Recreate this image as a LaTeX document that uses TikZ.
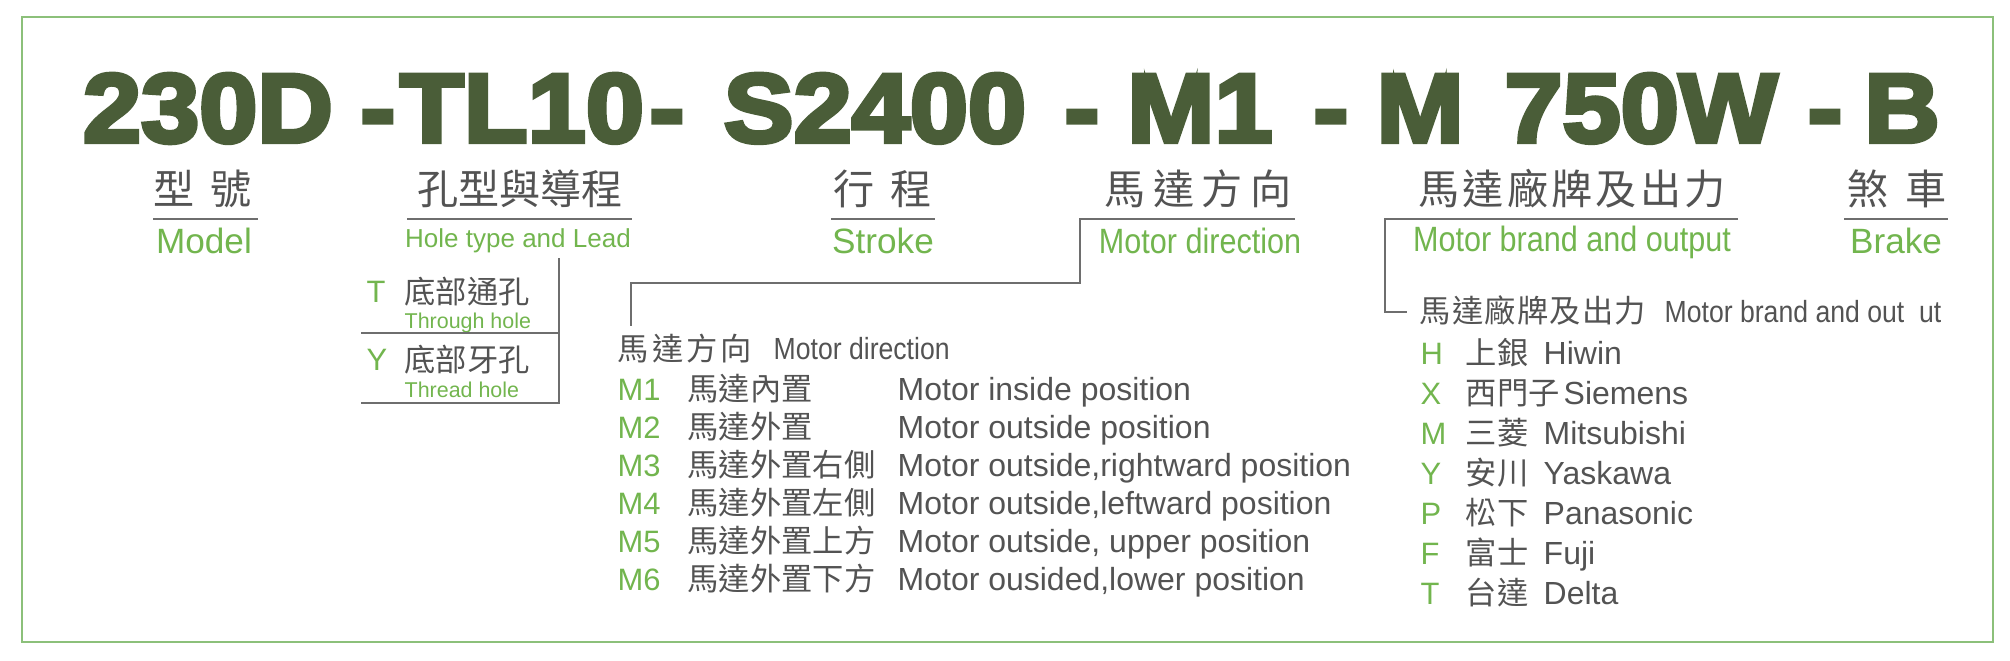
\documentclass[tikz,border=0pt]{standalone}
\usepackage{fontspec}
\usepackage{tikz}
\setmainfont{Liberation Sans}
\newfontfamily\cjk{Noto Sans CJK TC}
\newfontfamily\titlefont{Liberation Sans Bold}[FakeStretch=1.07,FakeBold=4.5]
\newfontfamily\narrowfont{Liberation Sans}[FakeStretch=0.87]
\definecolor{titlegreen}{HTML}{4A5D38}
\definecolor{leafgreen}{HTML}{72B54E}
\definecolor{framegreen}{HTML}{8CC07A}
\definecolor{textgray}{HTML}{535353}
\definecolor{rulegray}{HTML}{6E6E6E}

\begin{document}
\begin{tikzpicture}
			\tikzstyle{title} = [anchor=base,inner sep=0pt,text=titlegreen,font=\titlefont\fontsize{27.8}{30}\selectfont]
			\tikzstyle{head} = [anchor=base,inner sep=0pt,text=textgray,font=\cjk\fontsize{11.7}{13}\selectfont]
			\tikzstyle{sub} = [anchor=base,inner sep=0pt,text=leafgreen,font=\fontsize{10}{12}\selectfont]
			\tikzstyle{subnarrow} = [sub,font=\narrowfont\fontsize{10}{12}\selectfont]
			\tikzstyle{code} = [anchor=base west,inner sep=0pt,text=leafgreen,font=\fontsize{8.8}{10}\selectfont]
			\tikzstyle{cjkrow} = [anchor=base west,inner sep=0pt,text=textgray,font=\cjk\fontsize{8.9}{10}\selectfont]
			\tikzstyle{row} = [anchor=base west,inner sep=0pt,text=textgray,font=\fontsize{9.1}{11}\selectfont]
			\tikzstyle{rule} = [draw=rulegray,line width=0.6pt]
			
			\useasboundingbox (0,0) rectangle (20.10,-6.60);
			\draw[framegreen,line width=0.45pt] (0.22,-0.17) rectangle (19.93,-6.42);
			
			% model code
			\node[title] (model) at (2.08,-1.42) {230D};
			\node[title] (dash1) at (3.78,-1.42) {-};
			\node[title] (lead) at (5.22,-1.42) {TL10};
			\node[title] (dash2) at (6.67,-1.42) {-};
			\node[title] (stroke) at (8.75,-1.42) {S2400};
			\node[title] (dash3) at (10.82,-1.42) {-};
			\node[title] (dir) at (12.00,-1.42) {M1};
			\node[title] (dash4) at (13.31,-1.42) {-};
			\node[title] (brand) at (14.20,-1.42) {M};
			\node[title] (power) at (16.41,-1.42) {750W};
			\node[title] (dash5) at (18.25,-1.42) {-};
			\node[title] (brake) at (19.02,-1.42) {B};
			
			% headings
			\node[head] (hmodel) at (2.03,-2.04) {型\hspace{0.39em}號};
			\node[head] (hlead) at (5.20,-2.04) {孔型與導程};
			\node[head] (hstroke) at (8.83,-2.04) {行\hspace{0.39em}程};
			\node[head] (hdir) at (11.98,-2.04) {\addfontfeature{LetterSpace=18}馬達方向};
			\node[head] (hbrand) at (15.72,-2.04) {\addfontfeature{LetterSpace=8}馬達廠牌及出力};
			\node[head] (hbrake) at (18.97,-2.04) {煞\hspace{0.39em}車};
			
			\node[sub] (emodel) at (2.04,-2.53) {Model};
			\node[sub,font=\fontsize{7.4}{9}\selectfont] (elead) at (5.18,-2.47) {Hole type and Lead};
			\node[sub] (estroke) at (8.83,-2.53) {Stroke};
			\node[subnarrow] (edir) at (12.00,-2.53) {Motor direction};
			\node[subnarrow] (ebrand) at (15.72,-2.51) {Motor brand and output};
			\node[sub] (ebrake) at (18.96,-2.53) {Brake};
			
			\draw[rule] (1.53,-2.19) -- (2.58,-2.19);
			\draw[rule] (4.07,-2.19) -- (6.32,-2.19);
			\draw[rule] (8.31,-2.19) -- (9.35,-2.19);
			\draw[rule] (18.44,-2.19) -- (19.48,-2.19);
			
			% hole type
			\node[code] (ct) at (3.66,-3.02) {T};
			\node[cjkrow] (kt) at (4.04,-3.03) {底部通孔};
			\node[sub,anchor=base west,font=\fontsize{6.1}{7}\selectfont] (et) at (4.04,-3.28) {Through hole};
			\node[code] (cy) at (3.66,-3.70) {Y};
			\node[cjkrow] (ky) at (4.04,-3.71) {底部牙孔};
			\node[sub,anchor=base west,font=\fontsize{6.1}{7}\selectfont] (ey) at (4.04,-3.97) {Thread hole};
			\coordinate (holetop) at (5.59,-2.58);
			\coordinate (holemid) at (3.61,-3.33);
			\coordinate (holeend) at (3.61,-4.03);
			\draw[rule] (holetop) |- (holeend);
			\draw[rule] (holemid) -- (holemid -| holetop);
			
			% motor direction
			\coordinate (dirr) at (12.95,-2.19);
			\coordinate (dirl) at (10.80,-2.19);
			\coordinate (dirend) at (6.31,-3.26);
			\draw[rule] (dirr) -- (dirl) -- ++(0,-0.64) -| (dirend);
			\node[cjkrow,font=\cjk\fontsize{8.9}{10}\selectfont\addfontfeature{LetterSpace=10}] (dirhead) at (6.17,-3.60) {馬達方向};
			\node[row,font=\narrowfont\fontsize{8.7}{10}\selectfont] (direng) at (7.73,-3.59) {Motor direction};
			\node[code] (m1) at (6.17,-4.00) {M1};
			\node[cjkrow] (k1) at (6.87,-4.00) {馬達內置};
			\node[row] (e1) at (8.97,-4.00) {Motor inside position};
			\node[code] (m2) at (6.17,-4.38) {M2};
			\node[cjkrow] (k2) at (6.87,-4.38) {馬達外置};
			\node[row] (e2) at (8.97,-4.38) {Motor outside position};
			\node[code] (m3) at (6.17,-4.76) {M3};
			\node[cjkrow] (k3) at (6.87,-4.76) {馬達外置右側};
			\node[row] (e3) at (8.97,-4.76) {Motor outside,rightward position};
			\node[code] (m4) at (6.17,-5.14) {M4};
			\node[cjkrow] (k4) at (6.87,-5.14) {馬達外置左側};
			\node[row] (e4) at (8.97,-5.14) {Motor outside,leftward position};
			\node[code] (m5) at (6.17,-5.52) {M5};
			\node[cjkrow] (k5) at (6.87,-5.52) {馬達外置上方};
			\node[row] (e5) at (8.97,-5.52) {Motor outside, upper position};
			\node[code] (m6) at (6.17,-5.90) {M6};
			\node[cjkrow] (k6) at (6.87,-5.90) {馬達外置下方};
			\node[row] (e6) at (8.97,-5.90) {Motor ousided,lower position};
			
			% motor brand
			\coordinate (brr) at (17.38,-2.19);
			\coordinate (brl) at (13.85,-2.19);
			\coordinate (brend) at (14.07,-3.12);
			\draw[rule] (brr) -- (brl) |- (brend);
			\node[cjkrow,font=\cjk\fontsize{8.9}{10}\selectfont\addfontfeature{LetterSpace=4}] (brhead) at (14.19,-3.22) {馬達廠牌及出力};
			\node[row,font=\narrowfont\fontsize{8.7}{10}\selectfont] (breng) at (16.64,-3.22) {Motor brand and out\ \ ut};
			\node[code] (bh) at (14.20,-3.64) {H};
			\node[cjkrow] (kh) at (14.65,-3.64) {上銀};
			\node[row] (eh) at (15.43,-3.64) {Hiwin};
			\node[code] (bx) at (14.20,-4.04) {X};
			\node[cjkrow] (kx) at (14.65,-4.04) {西門子};
			\node[row] (ex) at (15.63,-4.04) {Siemens};
			\node[code] (bm) at (14.20,-4.44) {M};
			\node[cjkrow] (km) at (14.65,-4.44) {三菱};
			\node[row] (em) at (15.43,-4.44) {Mitsubishi};
			\node[code] (by) at (14.20,-4.84) {Y};
			\node[cjkrow] (ky2) at (14.65,-4.84) {安川};
			\node[row] (ey2) at (15.43,-4.84) {Yaskawa};
			\node[code] (bp) at (14.20,-5.24) {P};
			\node[cjkrow] (kp) at (14.65,-5.24) {松下};
			\node[row] (ep) at (15.43,-5.24) {Panasonic};
			\node[code] (bf) at (14.20,-5.64) {F};
			\node[cjkrow] (kf) at (14.65,-5.64) {富士};
			\node[row] (ef) at (15.43,-5.64) {Fuji};
			\node[code] (bt) at (14.20,-6.04) {T};
			\node[cjkrow] (kt2) at (14.65,-6.04) {台達};
			\node[row] (et2) at (15.43,-6.04) {Delta};
		\end{tikzpicture}
\end{document}
